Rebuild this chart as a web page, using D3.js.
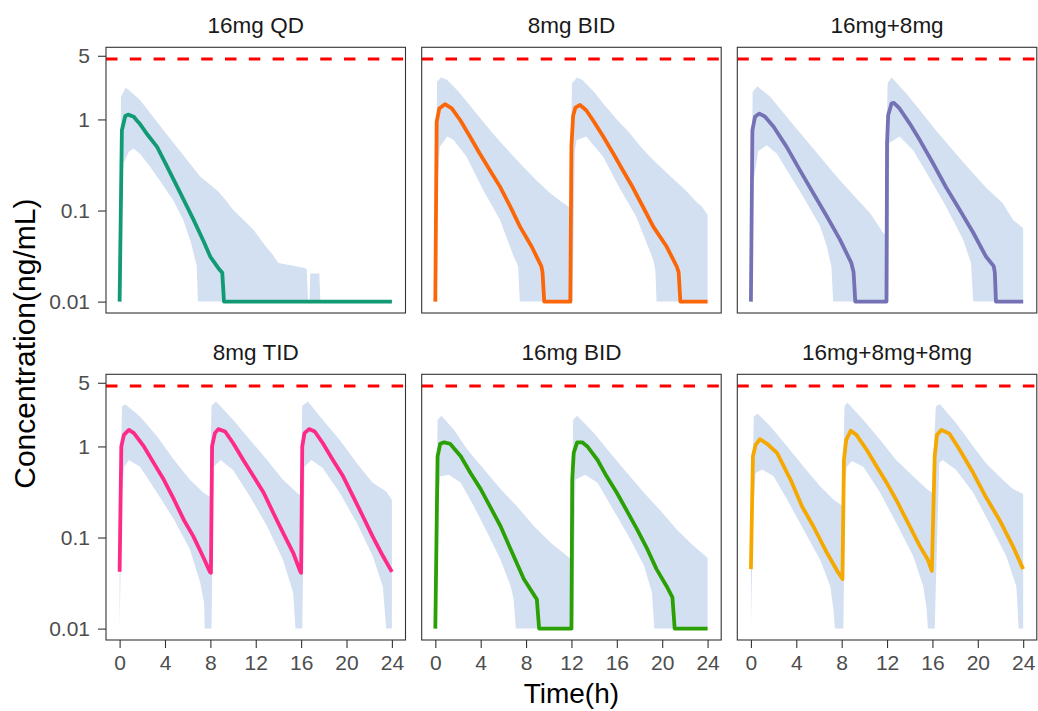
<!DOCTYPE html>
<html>
<head>
<meta charset="utf-8">
<script src="https://cdn.jsdelivr.net/npm/d3@7"></script>
<style>
  body { margin: 0; background: #fff; }
  svg { display: block; font-family: "Liberation Sans", Arial, sans-serif; }
</style>
</head>
<body>
<svg></svg>
<script>
// facet titles, colours, ticks
const titles = ["16mg QD", "8mg BID", "16mg+8mg", "8mg TID", "16mg BID", "16mg+8mg+8mg"];
const colors = ["#119a74", "#fb6608", "#7571b5", "#fd2a88", "#2ba005", "#f5a800"];
const xTicks = [0, 4, 8, 12, 16, 20, 24];
const yTicks = [0.01, 0.1, 1, 5];
const toxLimit = 4.6;

// [time h, conc ng/mL]
const qd16Median = [[0,.01],[0.2,.76],[0.5,1.09],[0.75,1.13],[1.25,1.07],[1.5,.98],[1.8,.89],[2.5,.67],[3.3,.50],[4.1,.32],[5.3,.16],[6.5,.08],[7.4,.046],[8.0,.031],[8.8,.0225],[9.05,.0207],[9.2,.01],[24,.01]];
const qd16Upper = [[0,.01],[0.12,1.77],[0.55,2.24],[1.8,1.63],[4.1,.70],[7.1,.236],[8.7,.162],[9.4,.128],[10,.102],[11.8,.0615],[12.9,.040],[13.4,.034],[14,.0266],[15.3,.0248],[16.3,.0234],[16.5,.0225],[16.6,.0105],[16.75,.0105],[16.8,.0203],[17.6,.0203],[17.7,.01],[24,.01]];
const qd16Lower = [[0,.01],[0.2,.2],[0.35,.33],[0.8,.44],[1.2,.48],[1.8,.42],[2.7,.30],[3.5,.217],[4.7,.131],[5.6,.079],[6.3,.044],[6.8,.0245],[6.9,.01],[24,.01]];

const bid8Median = [[0,.01],[0.12,.94],[0.35,1.32],[0.85,1.47],[1.45,1.32],[2.2,.98],[3.05,.65],[3.9,.425],[4.8,.279],[5.7,.183],[6.6,.111],[7.45,.067],[8.5,.040],[9.35,.0244],[9.45,.021],[9.6,.01],[11.9,.01],[12.0,.52],[12.15,1.1],[12.35,1.35],[12.75,1.44],[13.3,1.26],[13.9,.98],[14.8,.65],[15.7,.42],[16.5,.28],[17.4,.18],[18.3,.11],[19.2,.067],[20.4,.040],[21.3,.024],[21.45,.021],[21.6,.01],[24,.01]];
const bid8Upper = [[0,.01],[0.15,2.6],[0.5,2.88],[1,2.75],[2,2.05],[3,1.45],[4,1.02],[5,.72],[6,.52],[7,.38],[8,.28],[9,.21],[10,.16],[11,.128],[11.85,.108],[12.05,2.5],[12.5,2.88],[13,2.7],[14,2.0],[15,1.4],[16,1.0],[17,.74],[18,.52],[19,.38],[20,.29],[21,.22],[22,.17],[23,.125],[23.5,.11],[24,.09]];
const bid8Lower = [[0,.01],[0.2,.2],[0.4,.5],[1.05,.65],[1.6,.60],[2.75,.39],[4.2,.169],[5.7,.079],[6.9,.0315],[7.3,.0245],[7.45,.01],[12.1,.01],[12.3,.45],[12.45,.59],[13.3,.65],[14.8,.39],[16.2,.18],[17.7,.086],[19.2,.029],[19.4,.022],[19.5,.01],[24,.01]];

const qd16bid8Median = [[0,.01],[0.13,.76],[0.36,1.07],[0.75,1.16],[1.25,1.07],[2,.83],[3.15,.50],[4.3,.279],[5.5,.155],[6.7,.086],[7.85,.048],[8.85,.0266],[9.05,.021],[9.2,.01],[11.95,.01],[12.0,.55],[12.1,1.12],[12.4,1.50],[12.6,1.52],[13.1,1.32],[14.0,.90],[14.9,.59],[16.05,.33],[17.2,.18],[18.4,.102],[19.6,.057],[20.7,.0315],[21.4,.0245],[21.5,.021],[21.6,.01],[24,.01]];
const qd16bid8Upper = [[0,.01],[0.15,2.0],[0.57,2.32],[1.7,1.77],[3.15,1.07],[4.6,.65],[6.1,.39],[7.55,.236],[9,.149],[10.5,.094],[11.65,.057],[11.8,.055],[12.05,2.5],[12.4,2.88],[13.7,1.93],[14.9,1.26],[16.3,.76],[17.8,.46],[19.3,.28],[20.7,.18],[22.2,.12],[23.1,.079],[24,.064]];
const qd16bid8Lower = [[0,.01],[0.2,.2],[0.65,.45],[1.4,.52],[2.3,.42],[3.15,.28],[4.6,.143],[6.1,.067],[6.7,.04],[7.1,.024],[7.25,.01],[12.1,.01],[12.2,.55],[13.1,.65],[14.3,.46],[15.5,.257],[17.2,.111],[18.7,.048],[19.4,.0266],[19.6,.01],[24,.01]];

const tid8Median = [[0,.042],[0.15,1.0],[0.38,1.34],[0.82,1.52],[1.26,1.40],[2.14,1.0],[3,.66],[3.9,.43],[4.8,.26],[5.65,.157],[6.5,.103],[7.4,.06],[7.95,.042],[8.05,.041],[8.15,1.0],[8.4,1.4],[8.7,1.55],[9.3,1.46],[10,1.09],[10.9,.71],[11.8,.47],[12.7,.31],[13.55,.186],[14.4,.113],[15.3,.068],[15.9,.043],[16.0,.041],[16.1,1.0],[16.3,1.4],[16.7,1.55],[17.2,1.46],[17.9,1.09],[18.8,.71],[19.7,.47],[20.6,.28],[21.45,.17],[22.3,.103],[23.2,.063],[24,.042]];
const tid8Upper = [[0,.042],[0.2,2.74],[0.5,2.91],[1.8,2.13],[3.3,1.29],[4.8,.71],[6.2,.43],[7.4,.31],[7.95,.28],[8.1,2.8],[8.5,3.11],[10,1.96],[11.5,1.18],[13,.71],[14.4,.43],[15.75,.30],[15.95,.29],[16.1,2.8],[16.6,3.11],[17.9,1.96],[19.4,1.18],[20.9,.66],[22.3,.40],[23.5,.32],[24,.26]];
const tid8Lower = [[0,.01],[0.2,.3],[0.4,.6],[0.82,.71],[1.8,.60],[3.3,.31],[4.8,.157],[6.2,.074],[7.1,.032],[7.45,.019],[7.5,.01],[8.1,.01],[8.3,.6],[8.9,.71],[10,.55],[11.5,.28],[13,.133],[14.4,.057],[15.3,.0248],[15.5,.01],[16.1,.01],[16.3,.6],[16.9,.71],[17.9,.58],[19.4,.31],[20.9,.145],[22.3,.063],[23.2,.029],[23.5,.01],[24,.01]];

const bid16Median = [[0,.01],[0.2,.78],[0.43,1.07],[0.78,1.11],[1.3,1.07],[2.24,.78],[3.1,.51],[4,.34],[4.9,.21],[5.75,.133],[6.65,.074],[7.8,.035],[8.85,.0219],[8.95,.021],[9.15,.01],[12,.01],[12.07,.43],[12.2,.85],[12.5,1.11],[12.95,1.11],[13.4,1.0],[14.3,.71],[15.1,.47],[16,.31],[16.9,.195],[17.8,.122],[18.7,.074],[19.5,.045],[20.4,.029],[20.9,.022],[21.1,.01],[24,.01]];
const bid16Upper = [[0,.01],[0.2,1.96],[0.54,2.17],[1.66,1.52],[2.83,.92],[4.3,.56],[5.75,.34],[7.2,.22],[8.7,.133],[10.2,.087],[11.8,.06],[11.95,.058],[12.15,1.96],[12.5,2.17],[14,1.40],[15.4,.85],[16.9,.51],[18.4,.31],[19.8,.20],[21.3,.122],[22.8,.08],[24,.06]];
const bid16Lower = [[0,.01],[0.2,.2],[0.43,.47],[1.2,.49],[2.24,.40],[3.4,.22],[4.6,.112],[5.75,.057],[6.65,.029],[6.9,.021],[7.1,.01],[12.15,.01],[12.35,.43],[13.2,.49],[14.3,.40],[15.7,.20],[17.2,.095],[18.4,.049],[19.1,.0248],[19.3,.01],[24,.01]];

const qd16tid8Median = [[0,.045],[0.18,.78],[0.41,1.04],[0.79,1.2],[1.43,1.07],[2.3,.85],[3.5,.43],[4.5,.22],[5.5,.133],[6.7,.068],[7.7,.041],[8.07,.035],[8.2,.71],[8.4,1.18],[8.8,1.49],[9.3,1.34],[10.2,.92],[11.1,.60],[11.96,.40],[12.8,.26],[13.7,.157],[14.9,.08],[15.6,.057],[15.95,.043],[16.2,.78],[16.4,1.34],[16.8,1.52],[17.5,1.38],[18.4,.92],[19.6,.51],[20.7,.28],[21.9,.157],[23.1,.08],[24,.045]];
const qd16tid8Upper = [[0,.045],[0.25,2.13],[0.6,2.28],[1.73,1.66],[3.2,1.0],[4.65,.60],[6.1,.365],[7.3,.26],[7.9,.23],[8.05,.22],[8.25,2.74],[8.5,3.03],[9.9,1.96],[11.4,1.18],[12.8,.71],[14.3,.47],[15.5,.34],[15.95,.31],[16.3,2.74],[16.65,2.93],[18.1,1.8],[19.6,1.0],[20.7,.66],[22.2,.43],[23.1,.34],[24,.30]];
const qd16tid8Lower = [[0,.01],[0.2,.2],[0.41,.51],[1,.56],[2,.47],[3.2,.26],[4.65,.122],[6.1,.057],[7,.029],[7.28,.016],[7.4,.01],[8.15,.01],[8.3,.4],[8.45,.60],[8.9,.69],[9.9,.60],[11.4,.31],[12.8,.145],[14.3,.0625],[15.2,.029],[15.5,.016],[15.6,.01],[16.2,.01],[16.6,.66],[16.9,.71],[18.1,.55],[19.6,.31],[21,.145],[22.5,.0625],[23.4,.029],[23.6,.01],[24,.01]];

const panels = [
  {median: qd16Median,     upper: qd16Upper,     lower: qd16Lower},
  {median: bid8Median,     upper: bid8Upper,     lower: bid8Lower},
  {median: qd16bid8Median, upper: qd16bid8Upper, lower: qd16bid8Lower},
  {median: tid8Median,     upper: tid8Upper,     lower: tid8Lower},
  {median: bid16Median,    upper: bid16Upper,    lower: bid16Lower},
  {median: qd16tid8Median, upper: qd16tid8Upper, lower: qd16tid8Lower}
];

const svgWidth = 1038, svgHeight = 711;
const panelW = 299.5, panelH = 265.7;
const colX = [106, 421.7, 737.3];
const rowY = [47.3, 374.3];

const svg = d3.select("svg")
  .attr("width", svgWidth)
  .attr("height", svgHeight);

const xScale = d3.scaleLinear()
  .domain([-1.2, 25.2])
  .range([0, panelW]);
const yScale = d3.scaleLog()
  .domain([Math.pow(10, -2.125), Math.pow(10, 0.792)])
  .range([panelH, 0]);

const lineGen = d3.line()
  .x(d => xScale(d[0]))
  .y(d => yScale(d[1]));

panels.forEach((p, i) => {
  const col = i % 3, row = Math.floor(i / 3);
  const g = svg.append("g")
    .attr("transform", `translate(${colX[col]},${rowY[row]})`);

  g.append("clipPath").attr("id", "clip" + i)
    .append("rect").attr("width", panelW).attr("height", panelH);
  const plot = g.append("g").attr("clip-path", `url(#clip${i})`);

  // 90% band: upper edge forward, lower edge back
  const band = p.upper.concat(p.lower.slice().reverse());
  plot.append("path")
    .attr("d", lineGen(band) + "Z")
    .attr("fill", "#d3e0f1")
    .attr("stroke", "none");

  plot.append("path")
    .attr("d", lineGen(p.median))
    .attr("fill", "none")
    .attr("stroke", colors[i])
    .attr("stroke-width", 3.8)
    .attr("stroke-linejoin", "round");

  plot.append("line")
    .attr("x1", 0).attr("x2", panelW)
    .attr("y1", yScale(toxLimit)).attr("y2", yScale(toxLimit))
    .attr("stroke", "#ff0000")
    .attr("stroke-width", 3)
    .attr("stroke-dasharray", "11.5,12.3");

  g.append("rect")
    .attr("width", panelW).attr("height", panelH)
    .attr("fill", "none")
    .attr("stroke", "#333333")
    .attr("stroke-width", 1.1);

  g.append("text")
    .attr("x", panelW / 2)
    .attr("y", -14)
    .attr("text-anchor", "middle")
    .attr("font-size", 22.5)
    .attr("fill", "#1a1a1a")
    .text(titles[i]);

  if (col === 0) {
    const yAxisG = g.append("g")
      .call(d3.axisLeft(yScale).tickValues(yTicks).tickFormat(d3.format("~g"))
        .tickSize(8).tickPadding(8));
    yAxisG.select(".domain").remove();
    yAxisG.selectAll(".tick line").attr("stroke", "#333333").attr("stroke-width", 1.1);
    yAxisG.selectAll(".tick text")
      .attr("fill", "#4d4d4d")
      .attr("font-size", 21)
      .attr("font-family", "Liberation Sans, Arial, sans-serif");
  }
  if (row === 1) {
    const xAxisG = g.append("g")
      .attr("transform", `translate(0,${panelH})`)
      .call(d3.axisBottom(xScale).tickValues(xTicks).tickSize(8).tickPadding(7));
    xAxisG.select(".domain").remove();
    xAxisG.selectAll(".tick line").attr("stroke", "#333333").attr("stroke-width", 1.1);
    xAxisG.selectAll(".tick text")
      .attr("fill", "#4d4d4d")
      .attr("font-size", 21)
      .attr("font-family", "Liberation Sans, Arial, sans-serif");
  }
});

svg.append("text")
  .attr("x", (colX[0] + colX[2] + panelW) / 2)
  .attr("y", 703)
  .attr("text-anchor", "middle")
  .attr("font-size", 28)
  .attr("fill", "#000")
  .text("Time(h)");

svg.append("text")
  .attr("transform", `translate(35,${(rowY[0] + rowY[1] + panelH) / 2}) rotate(-90)`)
  .attr("text-anchor", "middle")
  .attr("font-size", 30)
  .attr("fill", "#000")
  .text("Concentration(ng/mL)");
</script>
</body>
</html>
